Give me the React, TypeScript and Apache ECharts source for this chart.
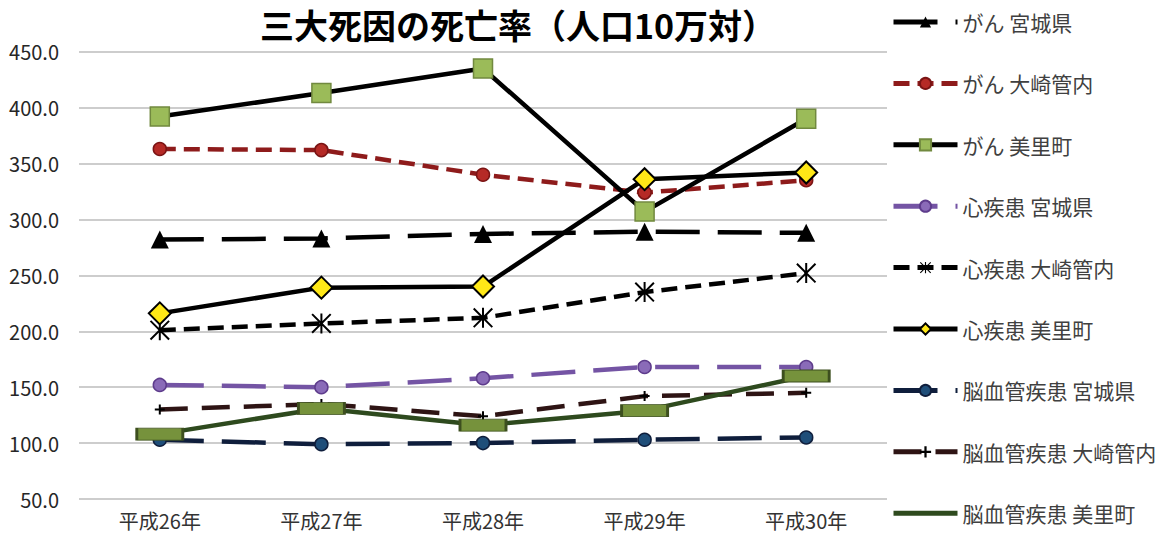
import React, { useEffect, useRef } from "react";
import * as echarts from "echarts";

// 三大死因の死亡率（人口10万対）
const categories = ["平成26年", "平成27年", "平成28年", "平成29年", "平成30年"];
const yTicks = { min: 50, max: 450, interval: 50 };

const seriesNames = [
  "がん 宮城県",
  "がん 大崎管内",
  "がん 美里町",
  "心疾患 宮城県",
  "心疾患 大崎管内",
  "心疾患 美里町",
  "脳血管疾患 宮城県",
  "脳血管疾患 大崎管内",
  "脳血管疾患 美里町",
];

const cancerMiyagi = [282, 283, 287, 289, 288];
const cancerOsaki = [363, 362, 340, 324, 335];
const cancerMisato = [392, 413, 435, 307, 390];
const heartMiyagi = [152, 150, 158, 168, 168];
const heartOsaki = [201, 207, 212, 235, 252];
const heartMisato = [216, 239, 240, 336, 342];
const strokeMiyagi = [103, 99, 100, 103, 105];
const strokeOsaki = [130, 135, 124, 142, 145];
const strokeMisato = [108, 131, 116, 129, 160];

const FONT = "'Noto Sans CJK JP', 'Noto Sans', sans-serif";

const ASTERISK =
  "path://M9,0 H11 V20 H9 Z M1.4,0 L20,18.6 L18.6,20 L0,1.4 Z M18.6,0 L20,1.4 L1.4,20 L0,18.6 Z";
const PLUS = "path://M4,0 H6 V10 H4 Z M0,4 H10 V6 H0 Z";
const BAR_ICON = "path://M0,0 H64 V5 H0 Z";

function lineSeries(
  name: string,
  data: number[],
  line: { color: string; width: number; type: any },
  symbol: string,
  symbolSize: any,
  item: { color: string; borderColor?: string; borderWidth?: number }
) {
  return {
    name,
    type: "line",
    data,
    symbol,
    symbolSize,
    showSymbol: true,
    showAllSymbol: true,
    lineStyle: { color: line.color, width: line.width, type: line.type },
    itemStyle: {
      color: item.color,
      borderColor: item.borderColor ?? item.color,
      borderWidth: item.borderWidth ?? 0,
    },
    emphasis: { disabled: true },
  };
}

export default function App() {
  const ref = useRef<HTMLDivElement>(null);

  useEffect(() => {
    if (!ref.current) return;
    const chart = echarts.init(ref.current, null, { renderer: "svg" });

    const series = [
      lineSeries(seriesNames[0], cancerMiyagi, { color: "#000000", width: 4.5, type: [44, 18] }, "triangle", 18, { color: "#000000" }),
      lineSeries(seriesNames[1], cancerOsaki, { color: "#8E1B1B", width: 4.5, type: [16, 8] }, "circle", 13, { color: "#B52A26", borderColor: "#7A1414", borderWidth: 1.5 }),
      lineSeries(seriesNames[2], cancerMisato, { color: "#000000", width: 4.5, type: "solid" }, "rect", 19, { color: "#9BBB59", borderColor: "#71893F", borderWidth: 1.5 }),
      lineSeries(seriesNames[3], heartMiyagi, { color: "#7454A4", width: 4.5, type: [44, 18] }, "circle", 13, { color: "#8A6BB8", borderColor: "#5E3C8C", borderWidth: 1.5 }),
      lineSeries(seriesNames[4], heartOsaki, { color: "#000000", width: 4.5, type: [16, 8] }, ASTERISK, 20, { color: "#000000" }),
      lineSeries(seriesNames[5], heartMisato, { color: "#000000", width: 4.5, type: "solid" }, "diamond", 22, { color: "#FFE817", borderColor: "#000000", borderWidth: 2 }),
      lineSeries(seriesNames[6], strokeMiyagi, { color: "#0F1E3C", width: 4.5, type: [44, 18] }, "circle", 13, { color: "#1F4E79", borderColor: "#0F1E3C", borderWidth: 1.5 }),
      lineSeries(seriesNames[7], strokeOsaki, { color: "#2E1414", width: 4.5, type: [28, 14] }, PLUS, 10, { color: "#000000" }),
      lineSeries(seriesNames[8], strokeMisato, { color: "#2E4A1E", width: 4.5, type: "solid" }, "rect", [46, 12], { color: "#76923C", borderColor: "#3D4F1F", borderWidth: 1.5 }),
    ];

    const legendData = seriesNames.map((n, i) =>
      i === 8
        ? { name: n, icon: BAR_ICON, itemStyle: { color: "#2E4A1E", borderWidth: 0 } }
        : { name: n }
    );

    chart.setOption({
      animation: false,
      backgroundColor: "#ffffff",
      textStyle: { fontFamily: FONT },
      title: {
        text: "三大死因の死亡率（人口10万対）",
        left: 513,
        top: 0,
        textAlign: "center",
        textStyle: { fontFamily: FONT, fontSize: 34, fontWeight: "bold", color: "#000000", lineHeight: 38 },
      },
      legend: {
        orient: "vertical",
        left: 886,
        top: 6,
        itemWidth: 64,
        itemHeight: 14,
        itemGap: 39.4,
        selectedMode: false,
        data: legendData,
        lineStyle: { width: 5 },
        textStyle: { fontFamily: FONT, fontSize: 21, color: "#404040", lineHeight: 22 },
      },
      grid: { left: 79, right: 281, top: 51.7, bottom: 37, containLabel: false },
      xAxis: {
        type: "category",
        data: categories,
        boundaryGap: true,
        axisLine: { show: false },
        axisTick: { show: false },
        splitLine: { show: false },
        axisLabel: { fontFamily: FONT, fontSize: 20, color: "#333333", margin: 11 },
      },
      yAxis: {
        type: "value",
        min: yTicks.min,
        max: yTicks.max,
        interval: yTicks.interval,
        axisLine: { show: false },
        axisTick: { show: false },
        splitLine: { lineStyle: { color: "#BDBDBD", width: 1.5 } },
        axisLabel: {
          fontFamily: FONT,
          fontSize: 20,
          color: "#262626",
          margin: 20,
          formatter: (v: number) => v.toFixed(1),
        },
      },
      series,
    });

    return () => chart.dispose();
  }, []);

  return (
    <div
      ref={ref}
      style={{ position: "absolute", left: 0, top: 0, width: 1168, height: 536, background: "#fff" }}
    />
  );
}
